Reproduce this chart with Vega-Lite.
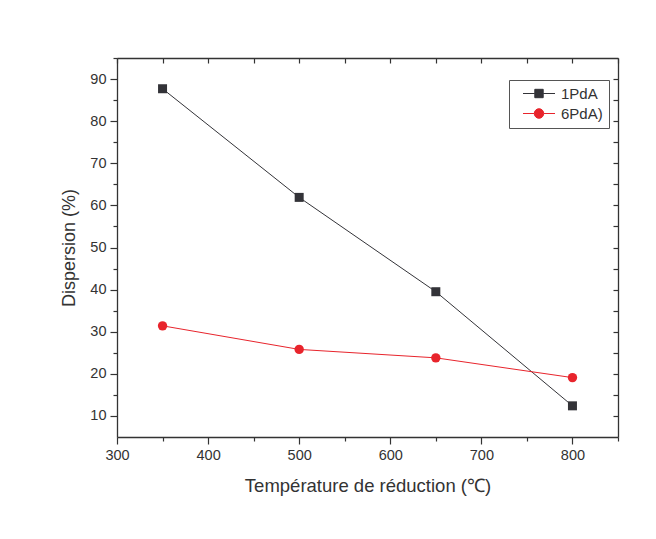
{
  "$schema": "https://vega.github.io/schema/vega-lite/v6.json",
  "width": 501,
  "height": 379,
  "autosize": {"type": "none"},
  "padding": {"left": 117, "top": 58, "right": 38, "bottom": 102},
  "background": "white",
  "config": {
    "view": {"stroke": null},
    "font": "Liberation Sans",
    "axis": {
      "grid": false,
      "labelFlush": false,
      "domainColor": "#333333",
      "domainWidth": 1.3,
      "tickColor": "#333333",
      "tickWidth": 1.2,
      "labelColor": "#333333",
      "labelFont": "Liberation Sans",
      "labelFontSize": 14.5,
      "titleColor": "#333333",
      "titleFont": "Liberation Sans",
      "titleFontSize": 18,
      "titleFontWeight": "normal"
    }
  },
  "data": {
    "values": [
      {"T": 350, "D": 87.7, "s": "1PdA"},
      {"T": 500, "D": 61.9, "s": "1PdA"},
      {"T": 650, "D": 39.5, "s": "1PdA"},
      {"T": 800, "D": 12.4, "s": "1PdA"},
      {"T": 350, "D": 31.4, "s": "6PdA)"},
      {"T": 500, "D": 25.8, "s": "6PdA)"},
      {"T": 650, "D": 23.8, "s": "6PdA)"},
      {"T": 800, "D": 19.1, "s": "6PdA)"}
    ]
  },
  "resolve": {"axis": {"x": "independent", "y": "independent"}},
  "layer": [
    {
      "transform": [{"filter": "datum.s == '1PdA'"}],
      "mark": {"type": "line", "strokeWidth": 1, "color": "#333338"},
      "encoding": {
        "x": {
          "field": "T", "type": "quantitative",
          "scale": {"domain": [300, 850], "nice": false, "zero": false},
          "axis": {"orient": "bottom", "values": [300, 400, 500, 600, 700, 800], "labelFlush": false, "tickSize": 7, "labelPadding": 4, "title": "Température de réduction (℃)", "titleFontSize": 18.5, "titlePadding": 15}
        },
        "y": {
          "field": "D", "type": "quantitative",
          "scale": {"domain": [5, 95], "nice": false, "zero": false},
          "axis": {"orient": "left", "values": [10, 20, 30, 40, 50, 60, 70, 80, 90], "labelFlush": false, "tickSize": 7, "labelPadding": 4, "title": "Dispersion (%)", "titlePadding": 11}
        }
      }
    },
    {
      "transform": [{"filter": "datum.s == '6PdA)'"}],
      "mark": {"type": "line", "strokeWidth": 1, "color": "#e8242c"},
      "encoding": {
        "x": {"field": "T", "type": "quantitative", "axis": null},
        "y": {"field": "D", "type": "quantitative", "axis": null}
      }
    },
    {
      "transform": [{"filter": "datum.s == '1PdA'"}],
      "mark": {"type": "point", "shape": "square", "filled": true, "size": 81, "opacity": 1, "color": "#333338"},
      "encoding": {
        "x": {
          "field": "T", "type": "quantitative",
          "axis": {"orient": "bottom", "values": [350, 450, 550, 650, 750, 850], "tickSize": 4, "labels": false, "domain": false, "title": null}
        },
        "y": {
          "field": "D", "type": "quantitative",
          "axis": {"orient": "left", "values": [15, 25, 35, 45, 55, 65, 75, 85, 95], "tickSize": 4, "labels": false, "domain": false, "title": null}
        }
      }
    },
    {
      "transform": [{"filter": "datum.s == '6PdA)'"}],
      "mark": {"type": "point", "shape": "circle", "filled": true, "size": 88, "opacity": 1, "color": "#e8242c"},
      "encoding": {
        "x": {
          "field": "T", "type": "quantitative",
          "axis": {"orient": "top", "values": [300, 350, 400, 450, 500, 550, 600, 650, 700, 750, 800, 850], "tickSize": -5, "labels": false, "domain": true, "title": null}
        },
        "y": {
          "field": "D", "type": "quantitative",
          "axis": {"orient": "right", "values": [10, 15, 20, 25, 30, 35, 40, 45, 50, 55, 60, 65, 70, 75, 80, 85, 90], "tickSize": -5, "labels": false, "domain": true, "title": null}
        }
      }
    },
    {
      "mark": {"type": "point", "filled": true, "opacity": 0, "size": 100},
      "encoding": {
        "x": {"field": "T", "type": "quantitative", "axis": null},
        "y": {"field": "D", "type": "quantitative", "axis": null},
        "color": {
          "field": "s", "type": "nominal",
          "scale": {"domain": ["1PdA", "6PdA)"], "range": ["#333338", "#e8242c"]},
          "legend": {
            "title": null,
            "orient": "none",
            "legendX": 392,
            "legendY": 22,
            "direction": "vertical",
            "padding": 6,
            "strokeColor": "#555555",
            "fillColor": "white",
            "labelFont": "Liberation Sans",
            "labelFontSize": 15,
            "labelColor": "#333333",
            "labelOffset": 31,
            "rowPadding": 4,
            "symbolSize": 100,
            "symbolStrokeWidth": 1,
            "symbolOpacity": 1,
            "encode": {
              "symbols": {
                "update": {
                  "opacity": {"value": 1},
                  "fill": {"scale": "color", "field": "value"},
                  "stroke": {"scale": "color", "field": "value"}
                }
              }
            }
          }
        },
        "shape": {
          "field": "s", "type": "nominal",
          "scale": {
            "domain": ["1PdA", "6PdA)"],
            "range": [
              "M0.1,0H2.46M4.14,0H6.5M2.46,-0.84H4.14V0.84H2.46Z",
              "M0.1,0H2.35M4.25,0H6.5M2.35,0A0.95,0.95,0,1,0,4.25,0A0.95,0.95,0,1,0,2.35,0Z"
            ]
          },
          "legend": {
            "title": null,
            "orient": "none",
            "legendX": 392,
            "legendY": 22,
            "direction": "vertical",
            "padding": 6,
            "strokeColor": "#555555",
            "fillColor": "white",
            "labelFont": "Liberation Sans",
            "labelFontSize": 15,
            "labelColor": "#333333",
            "labelOffset": 31,
            "rowPadding": 4,
            "symbolSize": 100,
            "symbolStrokeWidth": 1,
            "symbolOpacity": 1,
            "encode": {
              "symbols": {
                "update": {
                  "opacity": {"value": 1},
                  "fill": {"scale": "color", "field": "value"},
                  "stroke": {"scale": "color", "field": "value"}
                }
              }
            }
          }
        }
      }
    }
  ]
}
